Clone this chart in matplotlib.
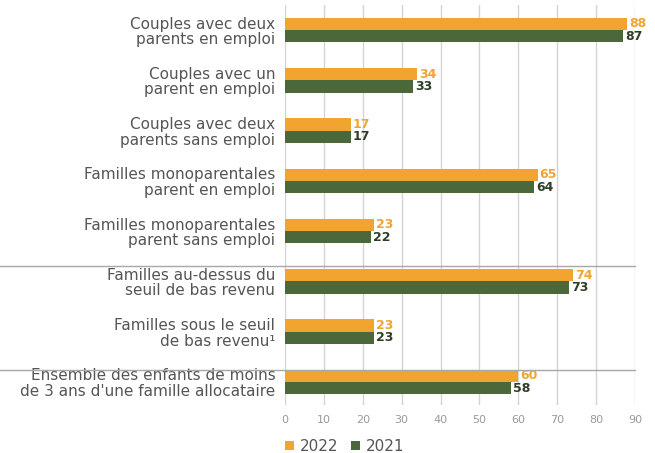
import numpy as np
import matplotlib.pyplot as plt

categories = [
    "Couples avec deux\nparents en emploi",
    "Couples avec un\nparent en emploi",
    "Couples avec deux\nparents sans emploi",
    "Familles monoparentales\nparent en emploi",
    "Familles monoparentales\nparent sans emploi",
    "Familles au-dessus du\nseuil de bas revenu",
    "Familles sous le seuil\nde bas revenu\u00b9",
    "Ensemble des enfants de moins\nde 3 ans d'une famille allocataire",
]
val_2022 = [88, 34, 17, 65, 23, 74, 23, 60]
val_2021 = [87, 33, 17, 64, 22, 73, 23, 58]
xticks = [0, 10, 20, 30, 40, 50, 60, 70, 80, 90]

c22 = "#F2A431"
c21 = "#4B683B"
txt = "#555555"

plt.rcParams['font.family'] = ['DejaVu Sans']

fig = plt.figure(figsize=(6.55, 4.53), dpi=100)
ax = fig.add_axes([285/655, 1 - 405/453, 350/655, 400/453])

y = np.arange(len(categories))
h = 0.245
ax.barh(y - h/2, val_2022, height=h, color=c22, label="2022", zorder=3)
ax.barh(y + h/2, val_2021, height=h, color=c21, label="2021", zorder=3)

for yi, v in zip(y, val_2022):
    ax.text(v + 0.5, yi - h/2, str(v), color=c22, fontsize=9, fontweight='bold',
            va='center', ha='left')
for yi, v in zip(y, val_2021):
    ax.text(v + 0.5, yi + h/2, str(v), color="#2f3f26", fontsize=9, fontweight='bold',
            va='center', ha='left')

ax.set_xlim(0, 90)
ax.set_ylim(7.46, -0.5)
ax.set_xticks(xticks)
ax.set_yticks(y)
ax.set_yticklabels(categories, fontsize=11, color=txt, linespacing=1.05)
ax.tick_params(axis='y', length=0, pad=7)
ax.tick_params(axis='x', length=0, pad=7, labelsize=8, labelcolor="#999999")
ax.grid(axis='x', color="#d4d4d4", linewidth=1, zorder=0)
for s in ax.spines.values():
    s.set_visible(False)

# separator lines across the labels
trans = ax.get_yaxis_transform()
for yl in [4.69, 6.76]:
    ax.plot([-0.815, 1.0], [yl, yl], transform=trans, color="#a8a8a8",
            linewidth=1, clip_on=False, zorder=5)

ax.legend(loc='upper left', bbox_to_anchor=(-0.04, -0.05), ncol=2, frameon=False,
          fontsize=11, handlelength=0.6, handleheight=0.6, handletextpad=0.4,
          columnspacing=0.8, labelcolor=txt)

fig.savefig("out.png", dpi=100)
